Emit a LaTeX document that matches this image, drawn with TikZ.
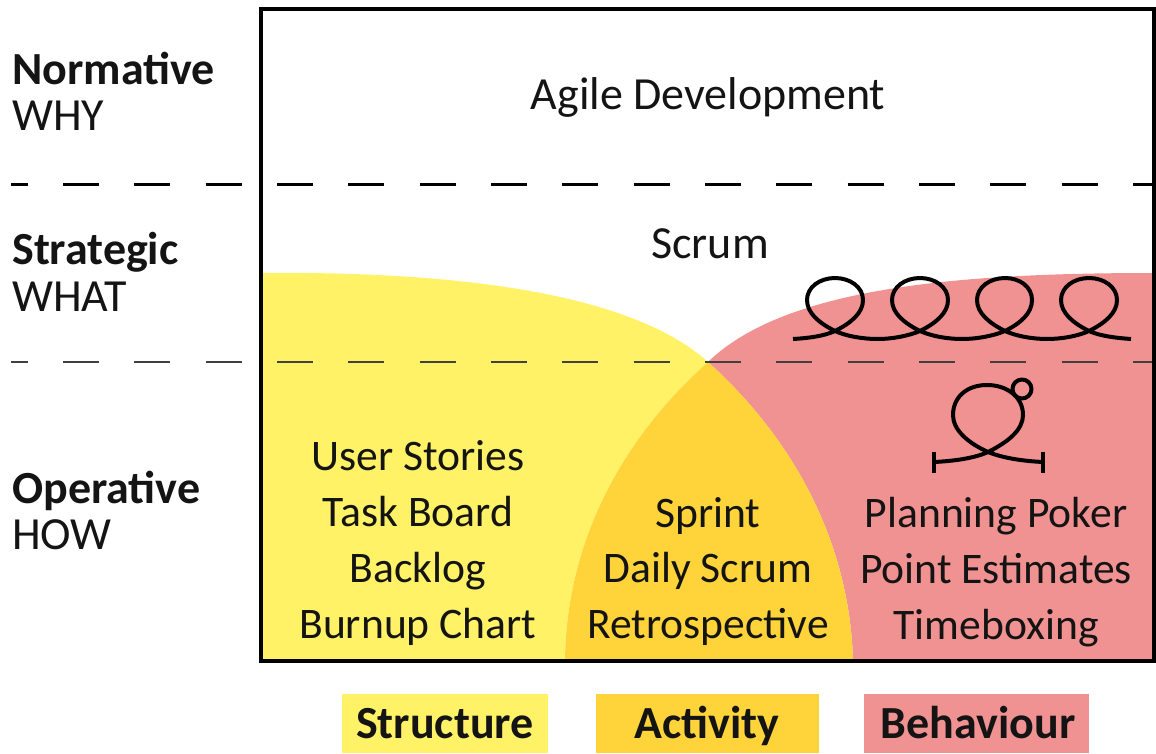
\documentclass[tikz,border=0pt]{standalone}
\usepackage{fontspec}
\setmainfont{Carlito}
\definecolor{cyel}{HTML}{FFF266}
\definecolor{cora}{HTML}{FFD33A}
\definecolor{cpnk}{HTML}{F09291}
\tikzset{
  x=0.75pt,y=-0.75pt,
  big/.style={anchor=base,inner sep=0pt,font=\fontsize{34.5}{40}\selectfont,text=black!92},
  txt/.style={anchor=base,inner sep=0pt,font=\fontsize{32.7}{38}\selectfont,text=black!92},
  lab/.style={anchor=base west,inner sep=0pt,font=\fontsize{34.5}{40}\selectfont,text=black!92},
  labb/.style={lab,font=\fontsize{34.5}{40}\selectfont\bfseries},
  leg/.style={anchor=base,inner sep=0pt,font=\fontsize{34.5}{40}\selectfont\bfseries,text=black!92},
  ink/.style={draw=black,line width=3pt,line cap=butt,line join=round},
}
\begin{document}
\begin{tikzpicture}
\useasboundingbox (0,0) rectangle (1156,753);
% region fills
\fill[cyel] (261,273) .. controls (470,271) and (635,296) .. (708,362)
  .. controls (615,445) and (566,550) .. (565,661) -- (261,661) -- cycle;
\fill[cpnk] (1154,273) .. controls (960,273) and (785,287) .. (708,362)
  .. controls (800,445) and (850,550) .. (853,661) -- (1154,661) -- cycle;
\fill[cora] (708,362) .. controls (615,445) and (566,550) .. (565,661) -- (853,661)
  .. controls (850,550) and (800,445) .. (708,362) -- cycle;
% level lines
\draw[black,line width=2.2pt,dash pattern=on 27pt off 26.5pt] (63,184.5) -- (1156,184.5);
\draw[black,line width=2.2pt] (11,184.5) -- (28,184.5);
\draw[black!75,line width=1.1pt,dash pattern=on 27pt off 26.5pt] (63,362) -- (1152,362);
\draw[black!75,line width=2.2pt] (11,362) -- (28,362);
% frame
\draw[black,line width=3pt] (261,9) rectangle (1154,661);
% coil
\draw[ink] (793,339) .. controls (810,338) and (824,336) .. (835,331)
  .. controls (851,323) and (863,313) .. (863,300) .. controls (863,287) and (850,278) .. (835,278)
  .. controls (820,278) and (807,287) .. (807,300) .. controls (807,313) and (819,323) .. (835,331)
  .. controls (846,336) and (862,339) .. (878,339) .. controls (892,339) and (908,336) .. (920,331)
  .. controls (936,323) and (948,313) .. (948,300) .. controls (948,287) and (935,278) .. (920,278)
  .. controls (905,278) and (892,287) .. (892,300) .. controls (892,313) and (904,323) .. (920,331)
  .. controls (931,336) and (947,339) .. (962,339) .. controls (977,339) and (993,336) .. (1005,331)
  .. controls (1021,323) and (1032,313) .. (1032,300) .. controls (1032,287) and (1020,278) .. (1005,278)
  .. controls (990,278) and (977,287) .. (977,300) .. controls (977,313) and (989,323) .. (1005,331)
  .. controls (1016,336) and (1032,339) .. (1047,339) .. controls (1062,339) and (1078,336) .. (1089,331)
  .. controls (1105,323) and (1117,313) .. (1117,300) .. controls (1117,287) and (1104,278) .. (1089,278)
  .. controls (1074,278) and (1061,287) .. (1061,300) .. controls (1061,313) and (1073,323) .. (1089,331)
  .. controls (1100,336) and (1116,338) .. (1131,339);
% timebox glyph
\draw[ink] (934,462) .. controls (955,461) and (975,458) .. (988,452)
  .. controls (1008,442) and (1023,430) .. (1023,415) .. controls (1023,397) and (1007,385) .. (987,385)
  .. controls (967,385) and (953,397) .. (953,415) .. controls (953,430) and (968,443) .. (988,452)
  .. controls (1003,458) and (1022,461) .. (1043,462);
\draw[ink,line width=3.6pt] (934,452) -- (934,473);
\draw[ink,line width=3.6pt] (1043,452) -- (1043,473);
\draw[ink,fill=none] (1022,389) circle[radius=9.5];
% texts
\node[big] (t1) at (708,109) {Agile Development};
\node[big] (t2) at (710,258) {Scrum};
\node[labb] (l1) at (12,84) {Normative};
\node[lab] (l2) at (12,130) {WHY};
\node[labb] (l3) at (12,264) {Strategic};
\node[lab] (l4) at (12,311) {WHAT};
\node[labb] (l5) at (12,503) {Operative};
\node[lab] (l6) at (12,549) {HOW};
\node[txt] (a1) at (418,470) {User Stories};
\node[txt] (a2) at (418,526) {Task Board};
\node[txt] (a3) at (418,582) {Backlog};
\node[txt] (a4) at (418,638) {Burnup Chart};
\node[txt] (b1) at (708,527) {Sprint};
\node[txt] (b2) at (708,582) {Daily Scrum};
\node[txt] (b3) at (708,638) {Retrospective};
\node[txt] (c1) at (996,527) {Planning Poker};
\node[txt] (c2) at (996,583) {Point Estimates};
\node[txt] (c3) at (996,639) {Timeboxing};
% legend
\fill[cyel] (342,694) rectangle (548,753);
\fill[cora] (596,694) rectangle (819,753);
\fill[cpnk] (864,694) rectangle (1089,753);
\node[leg] (k1) at (445,738) {Structure};
\node[leg] (k2) at (707,738) {Activity};
\node[leg] (k3) at (978,738) {Behaviour};
\end{tikzpicture}
\end{document}
